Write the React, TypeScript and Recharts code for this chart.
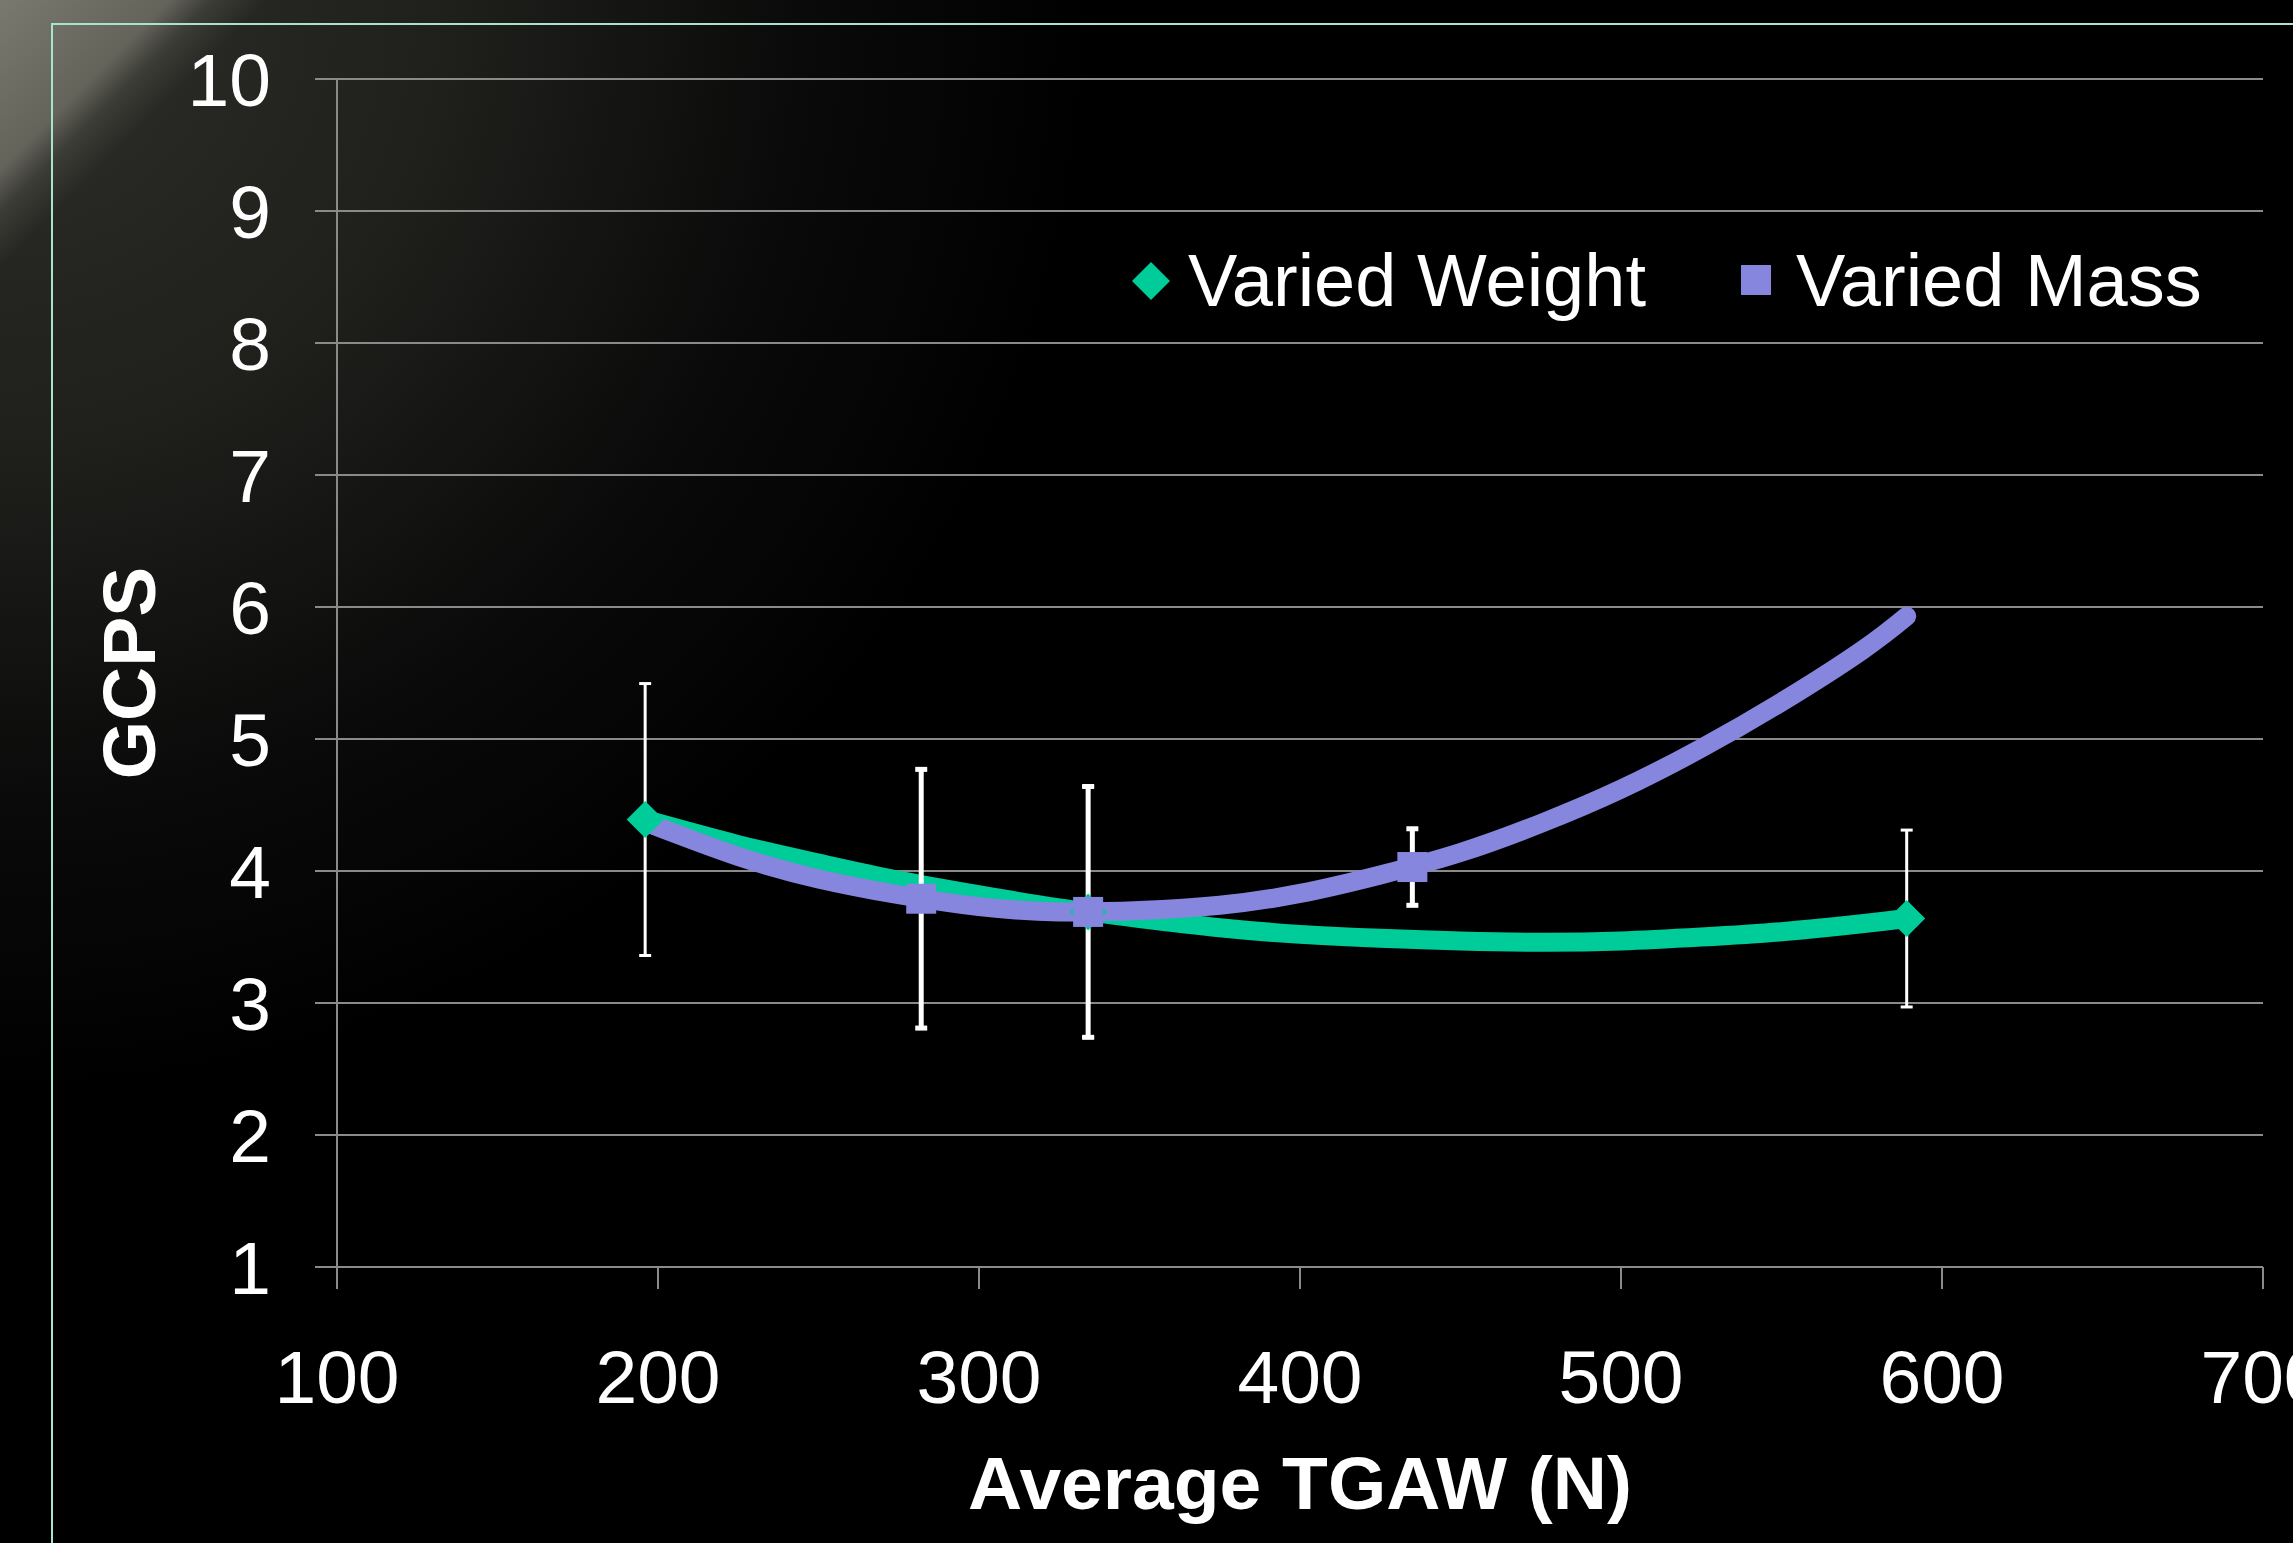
import React from 'react'
import { ComposedChart, Line, Scatter, XAxis, YAxis, CartesianGrid, ErrorBar } from 'recharts'

const W = 2293
const H = 1543

const GREEN = '#00CC99'
const PURPLE = '#8686DE'
const GRID = '#8a8a8a'
const FONT = '"Liberation Sans", Arial, Helvetica, sans-serif'

const xTicks = [100, 200, 300, 400, 500, 600, 700]
const yTicks = [1, 2, 3, 4, 5, 6, 7, 8, 9, 10]

const seriesNames = ['Varied Weight', 'Varied Mass']
const xTitle = 'Average TGAW (N)'
const yTitle = 'GCPS'

// measured points + SD bars
const weightX = [196, 334, 589]
const weightY = [4.39, 3.69, 3.64]
const weightErr = [1.03, 0.95, 0.67]

const massX = [282, 334, 435]
const massY = [3.79, 3.69, 4.03]
const massErr = [0.98, 0.95, 0.29]

// trend curves
const trendX = [196, 225, 250, 275, 300, 325, 350, 375, 400, 425, 450, 475, 500, 525, 550, 575, 589]
const weightTrend = [4.39, 4.2, 4.06, 3.93, 3.82, 3.72, 3.64, 3.57, 3.52, 3.49, 3.47, 3.46, 3.47, 3.5, 3.54, 3.6, 3.64]
const massTrend = [4.37, 4.11, 3.94, 3.82, 3.73, 3.69, 3.7, 3.74, 3.83, 3.97, 4.14, 4.36, 4.62, 4.93, 5.28, 5.67, 5.93]

const weightPts = weightX.map((x, i) => ({ x, y: weightY[i], err: weightErr[i] }))
const massPts = massX.map((x, i) => ({ x, y: massY[i], err: massErr[i] }))
const weightLine = trendX.map((x, i) => ({ x, y: weightTrend[i] }))
const massLine = trendX.map((x, i) => ({ x, y: massTrend[i] }))

const Diamond = (props: any) => {
  const { cx, cy } = props
  const r = 18.5
  return <polygon points={`${cx},${cy - r} ${cx + r},${cy} ${cx},${cy + r} ${cx - r},${cy}`} fill={GREEN} />
}

const Square = (props: any) => {
  const { cx, cy } = props
  const s = 30
  return <rect x={cx - s / 2} y={cy - s / 2} width={s} height={s} fill={PURPLE} />
}

const tickStyle = { fill: '#ffffff', fontSize: 75, fontFamily: FONT }

const background =
  'linear-gradient(135deg, rgba(125,125,115,0.95) 0px, rgba(110,110,100,0.85) 120px, rgba(75,75,68,0.6) 150px, rgba(0,0,0,0) 190px),' +
  'radial-gradient(circle at 0 0, #2e2e2a 0px, #1f1f1c 450px, #0a0a0a 800px, #000 1100px)'

export default function App() {
  return (
    <div style={{ position: 'absolute', left: 0, top: 0, width: W, height: H, overflow: 'hidden', background }}>
      <div
        style={{
          position: 'absolute',
          left: 51,
          top: 23,
          width: W,
          height: H,
          borderLeft: '2px solid #a6e4cc',
          borderTop: '2px solid #a6e4cc',
        }}
      />
      <div style={{ position: 'absolute', left: 0, top: 0 }}>
        <ComposedChart width={W} height={H} margin={{ top: 79, right: 30, bottom: 76, left: 87 }}>
          <CartesianGrid horizontal vertical={false} stroke={GRID} strokeWidth={2} />
          <XAxis
            type="number"
            dataKey="x"
            domain={[100, 700]}
            ticks={xTicks}
            interval={0}
            height={200}
            tickSize={22}
            tickMargin={61}
            axisLine={{ stroke: GRID, strokeWidth: 2 }}
            tickLine={{ stroke: GRID, strokeWidth: 2 }}
            tick={tickStyle}
          />
          <YAxis
            type="number"
            dataKey="y"
            domain={[1, 10]}
            ticks={yTicks}
            interval={0}
            width={250}
            tickSize={22}
            tickMargin={44}
            axisLine={{ stroke: GRID, strokeWidth: 2 }}
            tickLine={{ stroke: GRID, strokeWidth: 2 }}
            tick={tickStyle}
          />
          <Line
            data={weightLine}
            dataKey="y"
            type="natural"
            stroke={GREEN}
            strokeWidth={19}
            strokeLinecap="round"
            dot={false}
            activeDot={false}
            isAnimationActive={false}
          />
          <Scatter data={weightPts} dataKey="y" shape={Diamond} isAnimationActive={false}>
            <ErrorBar dataKey="err" direction="y" width={6} stroke="#ffffff" strokeWidth={3} />
          </Scatter>
          <Line
            data={massLine}
            dataKey="y"
            type="natural"
            stroke={PURPLE}
            strokeWidth={19}
            strokeLinecap="round"
            dot={false}
            activeDot={false}
            isAnimationActive={false}
          />
          <Scatter data={massPts} dataKey="y" shape={Square} isAnimationActive={false}>
            <ErrorBar dataKey="err" direction="y" width={6} stroke="#ffffff" strokeWidth={5} />
          </Scatter>
        </ComposedChart>
      </div>
      <svg width={W} height={H} style={{ position: 'absolute', left: 0, top: 0, pointerEvents: 'none' }}>
        <polygon points="1151,262 1170,281 1151,300 1132,281" fill={GREEN} />
        <text x={1188} y={306} fill="#fff" fontSize={74} fontFamily={FONT}>
          {seriesNames[0]}
        </text>
        <rect x={1741} y={265} width={30} height={30} fill={PURPLE} />
        <text x={1796} y={306} fill="#fff" fontSize={74} fontFamily={FONT}>
          {seriesNames[1]}
        </text>
        <text x={1300} y={1509} fill="#fff" fontSize={75} fontWeight="bold" fontFamily={FONT} textAnchor="middle">
          {xTitle}
        </text>
        <text
          transform="translate(155,673) rotate(-90)"
          fill="#fff"
          fontSize={75}
          fontWeight="bold"
          fontFamily={FONT}
          textAnchor="middle"
        >
          {yTitle}
        </text>
      </svg>
    </div>
  )
}
